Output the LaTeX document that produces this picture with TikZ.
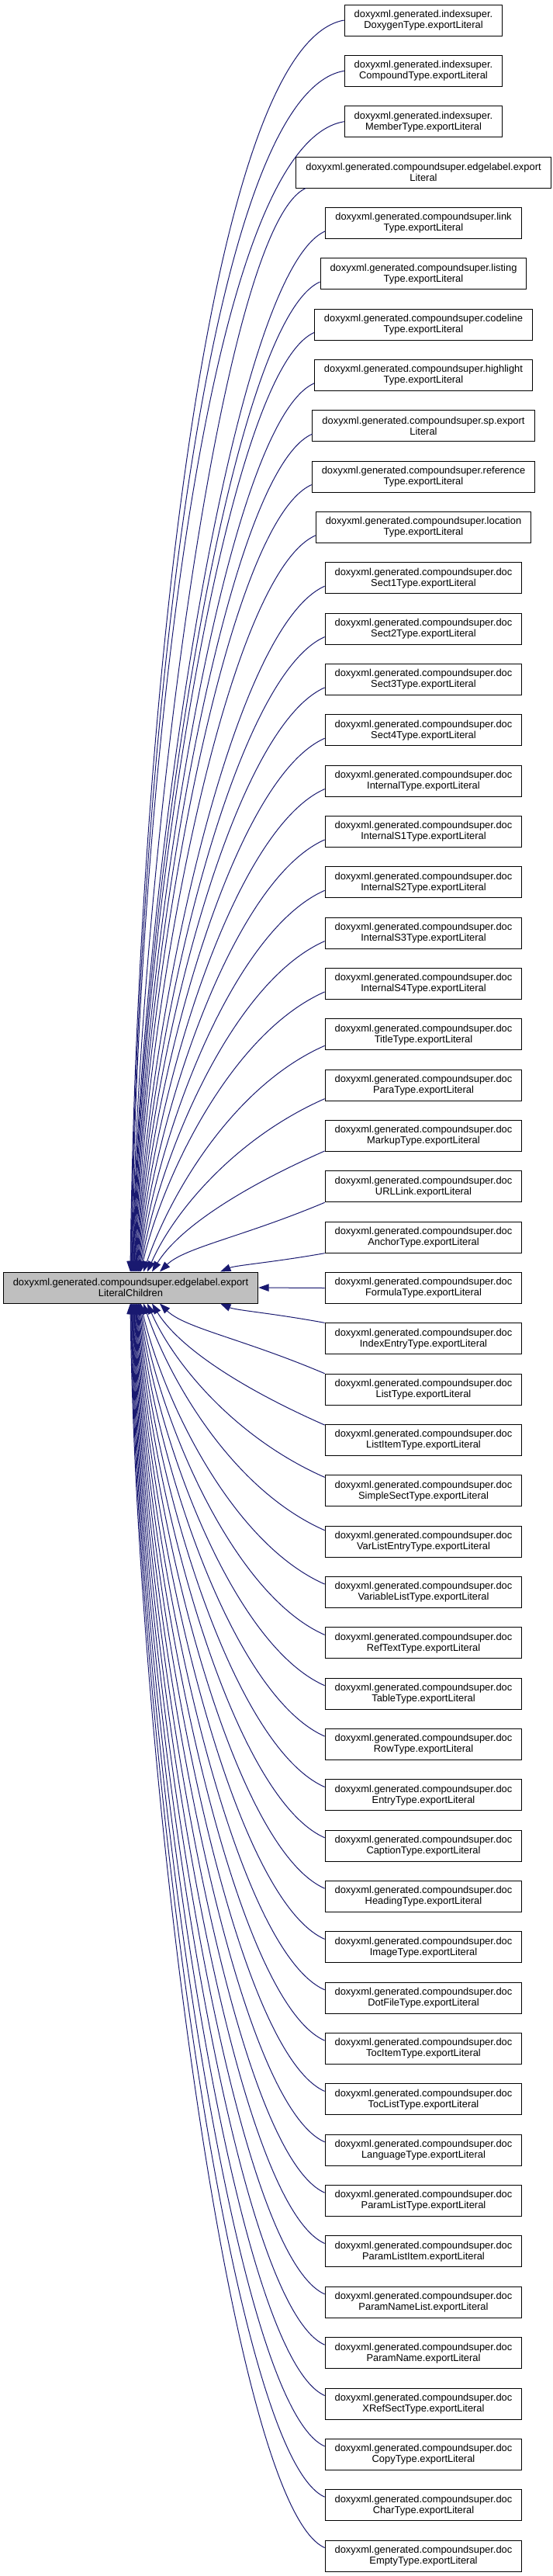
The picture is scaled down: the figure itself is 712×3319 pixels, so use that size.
\documentclass[tikz,border=0pt]{standalone}
\usepackage{fontspec}
\setmainfont{Liberation Sans}
\usetikzlibrary{arrows.meta,calc}
\definecolor{edgeblue}{HTML}{191970}
\definecolor{focusgray}{HTML}{BFBFBF}
% general curved edge: leaves down-left, arrives steeply
\newcommand\dxedge[2]{%
  \draw[edge] let \p1=(#1), \p2=(#2) in
    (\p1) .. controls ({\x1-0.5*(\x1-\x2)},{\y1+min(0.22*abs(\x1-\x2)/abs(\y1-\y2),0.5)*(\y2-\y1)})
             and ({\x2+0.15*(\x1-\x2)*min(1,300/abs(\y1-\y2))},{\y2-0.35*(\y2-\y1)}) .. (\p2);}
% edge leaving horizontally from a node's west side
\newcommand\dxedgeh[2]{%
  \draw[edge] let \p1=(#1), \p2=(#2) in
    (\p1) .. controls ({\x1-0.67*(\x1-\x2)},{\y1+0.02*(\y2-\y1)})
             and ({\x2+0.15*(\x1-\x2)*min(1,300/abs(\y1-\y2))},{\y2-0.4*(\y2-\y1)}) .. (\p2);}
\begin{document}
\begin{tikzpicture}[x=1pt,y=-1pt,
  box/.style={draw=black,line width=1pt,fill=white,align=center,
    font=\fontsize{12.9}{14}\selectfont,inner xsep=12.5pt,inner ysep=0pt,
    minimum height=40pt},
  focus/.style={box,fill=focusgray},
  edge/.style={draw=edgeblue,line width=1pt,
    -{Triangle[length=13.5pt,width=9.5pt]}}]
\useasboundingbox (0,0) rectangle (712,3319);
\node[focus] (L) at (168.5,1659) {doxyxml.generated.compoundsuper.edgelabel.export\\LiteralChildren};
\node[box] (r0) at (546,26) {doxyxml.generated.indexsuper.\\DoxygenType.exportLiteral};
\node[box] (r1) at (546,{26+65.34*1}) {doxyxml.generated.indexsuper.\\CompoundType.exportLiteral};
\node[box] (r2) at (546,{26+65.34*2}) {doxyxml.generated.indexsuper.\\MemberType.exportLiteral};
\node[box] (r3) at (546,{26+65.34*3}) {doxyxml.generated.compoundsuper.edgelabel.export\\Literal};
\node[box] (r4) at (546,{26+65.34*4}) {doxyxml.generated.compoundsuper.link\\Type.exportLiteral};
\node[box] (r5) at (546,{26+65.34*5}) {doxyxml.generated.compoundsuper.listing\\Type.exportLiteral};
\node[box] (r6) at (546,{26+65.34*6}) {doxyxml.generated.compoundsuper.codeline\\Type.exportLiteral};
\node[box] (r7) at (546,{26+65.34*7}) {doxyxml.generated.compoundsuper.highlight\\Type.exportLiteral};
\node[box] (r8) at (546,{26+65.34*8}) {doxyxml.generated.compoundsuper.sp.export\\Literal};
\node[box] (r9) at (546,{26+65.34*9}) {doxyxml.generated.compoundsuper.reference\\Type.exportLiteral};
\node[box] (r10) at (546,{26+65.34*10}) {doxyxml.generated.compoundsuper.location\\Type.exportLiteral};
\foreach \i/\t in {11/Sect1Type,12/Sect2Type,13/Sect3Type,14/Sect4Type,15/InternalType,
  16/InternalS1Type,17/InternalS2Type,18/InternalS3Type,19/InternalS4Type,20/TitleType,
  21/ParaType,22/MarkupType,23/URLLink,24/AnchorType,25/FormulaType,26/IndexEntryType,
  27/ListType,28/ListItemType,29/SimpleSectType,30/VarListEntryType,31/VariableListType,
  32/RefTextType,33/TableType,34/RowType,35/EntryType,36/CaptionType,37/HeadingType,
  38/ImageType,39/DotFileType,40/TocItemType,41/TocListType,42/LanguageType,
  43/ParamListType,44/ParamListItem,45/ParamNameList,46/ParamName,47/XRefSectType,
  48/CopyType,49/CharType,50/EmptyType}
  \node[box] (r\i) at (546,{26+65.34*\i}) {doxyxml.generated.compoundsuper.doc\\\t.exportLiteral};
% upper edges
\foreach \i in {0,1,2}{
  \pgfmathsetmacro{\ex}{168+0.7*\i}
  \dxedgeh{r\i.west}{[xshift=\ex pt-168.5pt]L.north}}
\dxedge{[xshift=13pt]r3.south west}{[xshift=170.1pt-168.5pt]L.north}
\foreach \i in {4,...,19}{
  \pgfmathsetmacro{\ex}{168+0.7*\i}
  \dxedge{[yshift=10pt]r\i.south west}{[xshift=\ex pt-168.5pt]L.north}}
\foreach \i/\ex/\sh in {20/185/6,21/190/3,22/196/1,23/206/0,24/284/0}
  \dxedge{[yshift=\sh pt]r\i.south west}{[xshift=\ex pt-168.5pt]L.north};
% horizontal edge
\draw[edge] (r25.west) -- (L.east);
% lower edges
\foreach \i/\ex/\sh in {26/284/0,27/206/0,28/196/1,29/190/3,30/185/6}
  \dxedge{[yshift=-\sh pt]r\i.north west}{[xshift=\ex pt-168.5pt]L.south};
\foreach \i in {31,...,50}{
  \pgfmathsetmacro{\ex}{168+0.7*(50-\i)}
  \dxedge{[yshift=-10pt]r\i.north west}{[xshift=\ex pt-168.5pt]L.south}}
\end{tikzpicture}
\end{document}
